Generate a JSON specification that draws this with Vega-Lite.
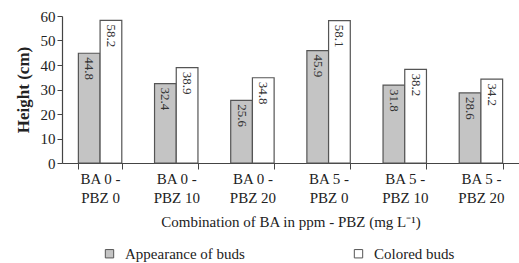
{
  "$schema": "https://vega.github.io/schema/vega-lite/v6.json",
  "width": 457,
  "height": 147,
  "autosize": {"type": "none"},
  "padding": {"left": 62, "top": 16, "right": 0, "bottom": 100},
  "background": "white",
  "config": {
    "font": "Liberation Serif",
    "view": {"stroke": null}
  },
  "data": {
    "values": [
      {"combo": "BA 0 -|PBZ 0", "series": "Appearance of buds", "value": 44.8},
      {"combo": "BA 0 -|PBZ 0", "series": "Colored buds", "value": 58.2},
      {"combo": "BA 0 -|PBZ 10", "series": "Appearance of buds", "value": 32.4},
      {"combo": "BA 0 -|PBZ 10", "series": "Colored buds", "value": 38.9},
      {"combo": "BA 0 -|PBZ 20", "series": "Appearance of buds", "value": 25.6},
      {"combo": "BA 0 -|PBZ 20", "series": "Colored buds", "value": 34.8},
      {"combo": "BA 5 -|PBZ 0", "series": "Appearance of buds", "value": 45.9},
      {"combo": "BA 5 -|PBZ 0", "series": "Colored buds", "value": 58.1},
      {"combo": "BA 5 -|PBZ 10", "series": "Appearance of buds", "value": 31.8},
      {"combo": "BA 5 -|PBZ 10", "series": "Colored buds", "value": 38.2},
      {"combo": "BA 5 -|PBZ 20", "series": "Appearance of buds", "value": 28.6},
      {"combo": "BA 5 -|PBZ 20", "series": "Colored buds", "value": 34.2}
    ]
  },
  "encoding": {
    "x": {
      "field": "combo",
      "type": "nominal",
      "sort": null,
      "scale": {"paddingInner": 0.43, "paddingOuter": 0.215},
      "axis": {
        "title": "Combination of BA in ppm - PBZ (mg L\u207b\u00b9)",
        "titleFont": "Liberation Serif",
        "titleFontSize": 15,
        "titleFontWeight": "normal",
        "titleColor": "#222",
        "titlePadding": 9,
        "labelExpr": "split(datum.label, '|')",
        "labelAngle": 0,
        "labelFontSize": 15,
        "labelColor": "#222",
        "labelLineHeight": 19,
        "labelPadding": 2,
        "tickBand": "extent",
        "tickSize": 6,
        "domainColor": "#444",
        "tickColor": "#444",
        "domainWidth": 1.2
      }
    },
    "xOffset": {"field": "series", "type": "nominal", "scale": {"paddingInner": 0, "paddingOuter": 0}},
    "y": {
      "field": "value",
      "type": "quantitative",
      "scale": {"domain": [0, 60]},
      "axis": {
        "title": "Height (cm)",
        "titleFontSize": 17,
        "titleFontWeight": "bold",
        "titleColor": "#222",
        "titlePadding": 8,
        "values": [0, 10, 20, 30, 40, 50, 60],
        "labelFontSize": 15,
        "labelColor": "#222",
        "grid": false,
        "tickSize": 5,
        "domainColor": "#444",
        "tickColor": "#444",
        "domainWidth": 1.2
      }
    }
  },
  "layer": [
    {
      "mark": {"type": "bar", "stroke": "#555", "strokeWidth": 1.2},
      "encoding": {
        "fill": {
          "field": "series",
          "type": "nominal",
          "scale": {"domain": ["Appearance of buds", "Colored buds"], "range": ["#c4c4c4", "#ffffff"]},
          "legend": {
            "title": null,
            "orient": "none",
            "legendX": 40,
            "legendY": 230,
            "direction": "horizontal",
            "symbolType": "square",
            "symbolSize": 70,
            "symbolStrokeColor": "#555",
            "symbolStrokeWidth": 1,
            "labelFontSize": 15,
            "labelColor": "#222",
            "labelOffset": 8,
            "columnPadding": 106
          }
        }
      }
    },
    {
      "mark": {"type": "text", "angle": 90, "align": "left", "baseline": "middle", "dx": 4, "fontSize": 13, "color": "#333"},
      "encoding": {
        "text": {"field": "value", "type": "quantitative", "format": ".1f"}
      }
    }
  ]
}
